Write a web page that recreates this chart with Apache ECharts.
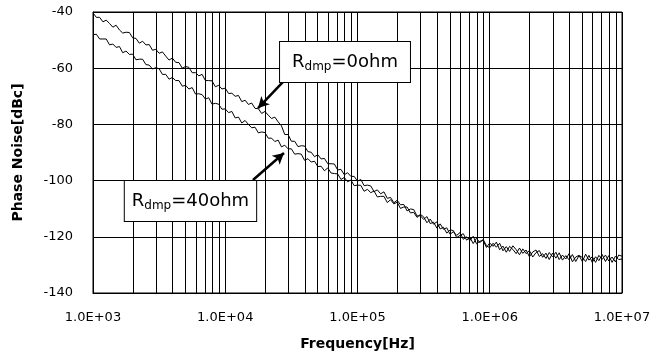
<!DOCTYPE html>
<html>
<head>
<meta charset="utf-8">
<script src="https://cdn.jsdelivr.net/npm/echarts/dist/echarts.min.js"></script>
<style>
  html, body { margin: 0; padding: 0; background: #fff; }
  #main { width: 655px; height: 356px; }
</style>
</head>
<body>
<div id="main"></div>
<script>
// frequency points (Hz), 40 per decade
var freqs = [
  1000, 1059, 1122, 1189, 1259, 1334, 1413, 1496, 1585, 1679, 1778, 1884, 1995, 2113, 2239, 2371, 2512, 2661, 2818, 2985,
  3162, 3350, 3548, 3758, 3981, 4217, 4467, 4732, 5012, 5309, 5623, 5957, 6310, 6683, 7079, 7499, 7943, 8414, 8913, 9441,
  10000, 10593, 11220, 11885, 12589, 13335, 14125, 14962, 15849, 16788, 17783, 18836, 19953, 21135, 22387, 23714, 25119, 26607, 28184, 29854,
  31623, 33497, 35481, 37584, 39811, 42170, 44668, 47315, 50119, 53088, 56234, 59566, 63096, 66834, 70795, 74989, 79433, 84140, 89125, 94406,
  100000, 105925, 112202, 118850, 125893, 133352, 141254, 149624, 158489, 167880, 177828, 188365, 199526, 211349, 223872, 237137, 251189, 266073, 281838, 298538,
  316228, 334965, 354813, 375837, 398107, 421697, 446684, 473151, 501187, 530884, 562341, 595662, 630957, 668344, 707946, 749894, 794328, 841395, 891251, 944061,
  1000000, 1059254, 1122018, 1188502, 1258925, 1333521, 1412538, 1496236, 1584893, 1678804, 1778279, 1883649, 1995262, 2113489, 2238721, 2371374, 2511886, 2660725, 2818383, 2985383,
  3162278, 3349654, 3548134, 3758374, 3981072, 4216965, 4466836, 4731513, 5011872, 5308844, 5623413, 5956621, 6309573, 6683439, 7079458, 7498942, 7943282, 8413951, 8912509, 9440609,
  10000000
];
// Rdmp = 0ohm (dBc)
var rdmp0 = [
  -40.3, -41.9, -41.9, -43.5, -42.9, -44.1, -45.4, -44.7, -46.4, -47.5, -47.2, -47.3, -49.2, -49.4, -51.1, -50.4, -51.7, -51.6, -53.6, -53.3,
  -54.7, -54.2, -55.7, -57.1, -56.4, -57.9, -58.0, -60.0, -59.4, -59.7, -61.6, -61.6, -62.7, -62.2, -64.4, -64.4, -64.5, -66.6, -66.1, -67.4,
  -67.1, -69.0, -68.9, -70.0, -69.7, -71.9, -71.4, -72.9, -72.4, -74.3, -74.4, -76.1, -75.4, -76.7, -77.9, -77.4, -79.1, -80.5, -83.6, -83.6,
  -86.0, -86.0, -87.9, -87.6, -87.7, -89.7, -89.9, -91.5, -90.8, -92.3, -92.1, -94.0, -94.0, -94.1, -96.2, -96.0, -97.9, -97.2, -98.5, -98.5,
  -100.2, -99.6, -101.8, -101.6, -101.9, -103.9, -103.3, -104.7, -104.0, -106.3, -106.0, -107.9, -107.0, -108.6, -108.5, -110.8, -110.1, -110.3, -112.6, -112.5,
  -113.8, -112.8, -115.3, -114.8, -116.9, -115.4, -117.3, -116.8, -119.1, -118.2, -119.5, -118.5, -120.9, -120.0, -121.3, -119.8, -122.5, -121.6, -121.3, -123.8,
  -122.2, -123.4, -121.9, -124.6, -123.3, -125.5, -123.4, -124.5, -126.0, -124.0, -125.9, -124.7, -127.1, -125.4, -124.7, -127.0, -126.0, -127.7, -125.6, -127.1,
  -125.5, -128.1, -126.5, -127.9, -126.0, -128.9, -127.2, -126.6, -128.8, -126.2, -128.3, -127.1, -129.1, -126.6, -128.0, -126.5, -128.6, -127.2, -128.9, -126.5,
  -126.9
];
// Rdmp = 40ohm (dBc)
var rdmp40 = [
  -48.1, -47.9, -49.6, -49.6, -49.6, -51.7, -51.4, -52.6, -52.3, -54.5, -53.9, -55.1, -55.0, -57.0, -56.8, -56.8, -58.7, -58.9, -60.3, -59.8,
  -60.2, -62.2, -62.2, -63.9, -63.3, -64.4, -64.4, -66.4, -66.1, -67.4, -66.9, -69.2, -69.1, -69.4, -71.0, -70.5, -72.8, -72.5, -72.8, -74.6,
  -74.5, -75.8, -75.4, -77.7, -77.4, -79.5, -78.6, -80.0, -81.2, -81.0, -83.0, -82.7, -82.9, -84.9, -84.9, -86.1, -85.6, -88.0, -87.4, -88.7,
  -88.7, -90.6, -90.4, -90.6, -92.8, -92.2, -93.4, -93.1, -95.0, -94.9, -96.5, -95.5, -97.3, -97.5, -97.6, -99.6, -98.9, -100.4, -99.8, -101.8,
  -101.6, -101.7, -103.8, -103.1, -104.3, -103.7, -105.8, -105.6, -105.6, -107.8, -106.8, -108.3, -107.7, -109.9, -109.4, -109.4, -111.5, -111.3, -113.1, -112.0,
  -112.9, -115.0, -113.7, -115.5, -114.7, -117.2, -116.6, -118.7, -117.5, -117.8, -120.3, -119.5, -118.9, -121.2, -120.2, -122.4, -120.5, -122.1, -120.9, -123.2,
  -123.9, -122.3, -123.7, -122.3, -125.0, -123.5, -125.2, -123.2, -124.6, -126.4, -124.3, -126.0, -124.9, -127.2, -125.6, -124.9, -127.3, -125.8, -128.1, -125.8,
  -127.6, -125.7, -128.3, -126.7, -128.2, -126.3, -128.8, -126.7, -127.3, -128.8, -126.6, -129.1, -127.1, -128.5, -126.3, -128.8, -126.7, -129.1, -126.9, -128.1,
  -127.9
];
// log-paper minor grid: mantissas x decades
var minorMantissas = [2, 3, 4, 5, 6, 7, 8, 9];
var decades = [1000, 10000, 100000, 1000000];
var yTicks = [-140, -120, -100, -80, -60, -40];

var minorLines = [];
decades.forEach(function (d) {
  minorMantissas.forEach(function (m) {
    minorLines.push({ xAxis: m * d });
  });
});

function pairs(xs, ys) {
  return xs.map(function (x, i) { return [x, ys[i]]; });
}

var font = 'DejaVu Sans';
var boxRich = {
  a: { fontFamily: font, fontSize: 18, color: '#000', lineHeight: 22 },
  b: { fontFamily: font, fontSize: 12, color: '#000', lineHeight: 14, verticalAlign: 'bottom' }
};

var myChart = echarts.init(document.getElementById('main'));
let option = {
  animation: false,
  backgroundColor: '#fff',
  grid: {
    left: 93,
    right: 33,
    top: 12,
    bottom: 63,
    show: true,
    borderColor: '#000',
    borderWidth: 1
  },
  xAxis: {
    type: 'log',
    logBase: 10,
    min: 1000,
    max: 10000000,
    name: 'Frequency[Hz]',
    nameLocation: 'middle',
    nameGap: 44,
    nameTextStyle: { fontFamily: font, fontWeight: 'bold', fontSize: 14, color: '#000' },
    axisLine: { lineStyle: { color: '#000', width: 1 } },
    axisTick: { show: false },
    axisLabel: {
      margin: 18,
      fontFamily: font,
      fontSize: 13,
      color: '#000',
      formatter: function (v) {
        var e = Math.round(Math.log(v) / Math.LN10);
        return '1.0E+' + (e < 10 ? '0' : '') + e;
      }
    },
    splitLine: { show: true, lineStyle: { color: '#000', width: 1 } }
  },
  yAxis: {
    type: 'value',
    min: yTicks[0],
    max: yTicks[yTicks.length - 1],
    interval: 20,
    name: 'Phase Noise[dBc]',
    nameLocation: 'middle',
    nameGap: 68,
    nameTextStyle: { fontFamily: font, fontWeight: 'bold', fontSize: 14, color: '#000' },
    axisLine: { show: true, lineStyle: { color: '#000', width: 1 } },
    axisTick: { show: false },
    axisLabel: { margin: 20, fontFamily: font, fontSize: 13, color: '#000' },
    splitLine: { show: true, lineStyle: { color: '#000', width: 1 } }
  },
  series: [
    {
      name: 'Rdmp=0ohm',
      type: 'line',
      showSymbol: false,
      symbol: 'none',
      lineStyle: { color: '#000', width: 1 },
      data: pairs(freqs, rdmp0),
      markLine: {
        silent: true,
        symbol: ['none', 'none'],
        label: { show: false },
        lineStyle: { color: '#000', width: 1, type: 'solid' },
        data: minorLines
      }
    },
    {
      name: 'Rdmp=40ohm',
      type: 'line',
      showSymbol: false,
      symbol: 'none',
      lineStyle: { color: '#000', width: 1 },
      data: pairs(freqs, rdmp40),
      // 箭头
      markLine: {
        silent: true,
        z: 8,
        symbol: ['none', 'arrow'],
        symbolSize: [9, 11],
        label: { show: false },
        lineStyle: { color: '#000', width: 2.5, type: 'solid' },
        data: [
          [{ coord: [27350, -64.9] }, { coord: [17700, -74.2] }],
          [{ coord: [16200, -99.8] }, { coord: [27800, -90.2] }]
        ]
      },
      // 标注框
      markPoint: {
        silent: true,
        z: 10,
        symbol: 'rect',
        symbolSize: 0,
        itemStyle: { color: 'rgba(0,0,0,0)' },
        data: [
          {
            coord: [80450, -57.8],
            label: {
              show: true,
              position: 'inside',
              formatter: '{a|R}{b|dmp}{a|=0ohm}',
              backgroundColor: '#fff',
              borderColor: '#000',
              borderWidth: 1,
              padding: [9, 12],
              rich: boxRich
            }
          },
          {
            coord: [5458, -107.3],
            label: {
              show: true,
              position: 'inside',
              formatter: '{a|R}{b|dmp}{a|=40ohm}',
              backgroundColor: '#fff',
              borderColor: '#000',
              borderWidth: 1,
              padding: [9, 7],
              rich: boxRich
            }
          }
        ]
      }
    }
  ]
};

myChart.setOption(option);
window.addEventListener('resize', function () {
  myChart.resize();
});
</script>
</body>
</html>
